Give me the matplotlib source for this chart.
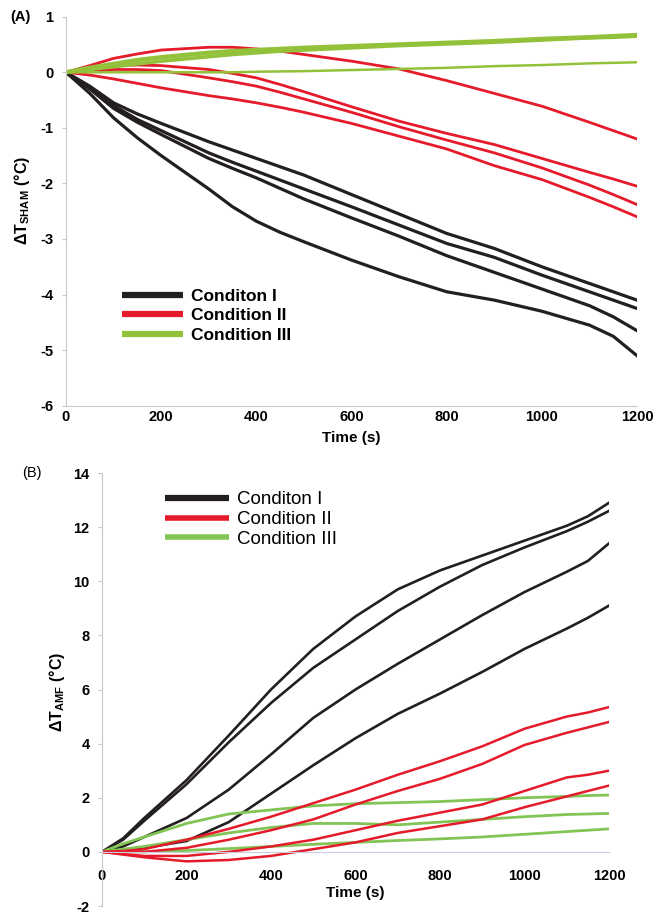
import matplotlib
matplotlib.use("Agg")
import matplotlib.pyplot as plt
from matplotlib.lines import Line2D

plt.rcParams['axes.unicode_minus'] = False
plt.rcParams['font.family'] = ['Liberation Sans', 'DejaVu Sans']
plt.rcParams['mathtext.fontset'] = 'custom'
plt.rcParams['mathtext.rm'] = 'Liberation Sans'
plt.rcParams['mathtext.bf'] = 'Liberation Sans:bold'

# ---------------- Panel A data (Delta T SHAM) ----------------
tA = [0, 50, 100, 150, 200, 300, 350, 400, 450, 500, 600, 700, 800, 900, 1000, 1100, 1150, 1200]
A_black1 = [0, -0.25, -0.55, -0.75, -0.92, -1.25, -1.4, -1.55, -1.7, -1.85, -2.2, -2.55, -2.9, -3.17, -3.5, -3.8, -3.95, -4.1]
A_black2 = [0, -0.28, -0.6, -0.85, -1.05, -1.45, -1.62, -1.78, -1.94, -2.1, -2.42, -2.75, -3.08, -3.33, -3.65, -3.95, -4.1, -4.25]
A_black3 = [0, -0.3, -0.65, -0.9, -1.12, -1.55, -1.73, -1.9, -2.09, -2.28, -2.62, -2.95, -3.3, -3.6, -3.9, -4.2, -4.4, -4.65]
A_black4 = [0, -0.38, -0.82, -1.18, -1.5, -2.1, -2.42, -2.68, -2.88, -3.05, -3.38, -3.68, -3.95, -4.1, -4.3, -4.55, -4.75, -5.1]
A_red1 = [0, 0.12, 0.25, 0.33, 0.4, 0.45, 0.45, 0.42, 0.38, 0.32, 0.2, 0.06, -0.15, -0.38, -0.61, -0.9, -1.05, -1.2]
A_red2 = [0, 0.08, 0.12, 0.13, 0.12, 0.05, -0.02, -0.1, -0.22, -0.35, -0.62, -0.88, -1.1, -1.3, -1.55, -1.8, -1.92, -2.05]
A_red3 = [0, 0.03, 0.05, 0.05, 0.03, -0.1, -0.17, -0.25, -0.36, -0.48, -0.72, -0.98, -1.22, -1.45, -1.72, -2.03, -2.2, -2.38]
A_red4 = [0, -0.05, -0.12, -0.2, -0.28, -0.42, -0.48, -0.55, -0.63, -0.72, -0.92, -1.15, -1.38, -1.68, -1.93, -2.25, -2.42, -2.6]
A_green1 = [0, 0.08, 0.15, 0.22, 0.27, 0.35, 0.38, 0.4, 0.42, 0.44, 0.47, 0.5, 0.53, 0.56, 0.6, 0.63, 0.65, 0.67]
A_green2 = [0, 0.05, 0.1, 0.15, 0.2, 0.28, 0.32, 0.35, 0.38, 0.4, 0.44, 0.48, 0.51, 0.54, 0.58, 0.62, 0.63, 0.65]
A_green3 = [0, 0.0, 0.0, 0.0, 0.0, 0.0, 0.0, 0.01, 0.015, 0.02, 0.04, 0.06, 0.08, 0.11, 0.13, 0.16, 0.17, 0.18]

# ---------------- Panel B data (Delta T AMF) ----------------
tB = [0, 50, 100, 200, 300, 400, 500, 600, 700, 800, 900, 1000, 1100, 1150, 1200]
B_black1 = [0, 0.5, 1.25, 2.65, 4.3, 6.0, 7.5, 8.7, 9.7, 10.4, 10.95, 11.5, 12.05, 12.4, 12.9]
B_black2 = [0, 0.45, 1.15, 2.5, 4.05, 5.5, 6.8, 7.85, 8.9, 9.8, 10.6, 11.25, 11.85, 12.2, 12.6]
B_black3 = [0, 0.2, 0.55, 1.25, 2.3, 3.6, 4.95, 6.0, 6.95, 7.85, 8.75, 9.6, 10.35, 10.75, 11.4]
B_black4 = [0, 0.05, 0.15, 0.4, 1.1, 2.15, 3.2, 4.2, 5.1, 5.85, 6.65, 7.5, 8.25, 8.65, 9.1]
B_red1 = [0, 0.03, 0.1, 0.45, 0.85, 1.3, 1.8, 2.3, 2.85, 3.35, 3.9, 4.55, 5.0, 5.15, 5.35]
B_red2 = [0, 0.0, 0.0, 0.15, 0.45, 0.8, 1.2, 1.75, 2.25, 2.7, 3.25, 3.95, 4.4, 4.6, 4.8]
B_red3 = [0, -0.08, -0.15, -0.15, 0.0, 0.2, 0.45, 0.8, 1.15, 1.45, 1.75, 2.25, 2.75, 2.85, 3.0]
B_red4 = [0, -0.1, -0.2, -0.35, -0.3, -0.15, 0.1, 0.35, 0.7, 0.95, 1.2, 1.65, 2.05, 2.25, 2.45]
B_green1 = [0, 0.3, 0.55, 1.05, 1.4, 1.55, 1.7, 1.78, 1.82, 1.86, 1.93, 2.0, 2.05, 2.08, 2.1]
B_green2 = [0, 0.1, 0.2, 0.45, 0.7, 0.9, 1.05, 1.05, 1.0, 1.1, 1.2, 1.3, 1.38, 1.4, 1.42]
B_green3 = [0, 0.0, 0.0, 0.05, 0.12, 0.2, 0.28, 0.35, 0.42, 0.48, 0.55, 0.65, 0.75, 0.8, 0.85]

legend_labels = ['Conditon I', 'Condition II', 'Condition III']
yticksA = [1, 0, -1, -2, -3, -4, -5, -6]
yticksB = [14, 12, 10, 8, 6, 4, 2, 0, -2]
xticks = [0, 200, 400, 600, 800, 1000, 1200]

BLACK = '#231f20'
RED = '#e51b2b'
GREEN_A = '#93c23a'
GREEN_B = '#82c455'
SPINE = '#c8c8c8'

fig = plt.figure(figsize=(6.57, 9.21), dpi=100)
W, H = 657.0, 921.0

def px_axes(x0, y0, x1, y1):
    return fig.add_axes([x0 / W, 1 - y1 / H, (x1 - x0) / W, (y1 - y0) / H])

# ---------- Panel A ----------
axA = px_axes(66, 16.7, 637, 405.7)
for y in (A_black1, A_black2, A_black3, A_black4):
    axA.plot(tA, y, color=BLACK, lw=2.3, solid_joinstyle='round')
for y in (A_red1, A_red2, A_red3, A_red4):
    axA.plot(tA, y, color=RED, lw=2.0, solid_joinstyle='round')
axA.plot(tA, A_green1, color=GREEN_A, lw=3.2)
axA.plot(tA, A_green2, color=GREEN_A, lw=2.6)
axA.plot(tA, A_green3, color=GREEN_A, lw=1.8)
axA.set_xlim(0, 1200)
axA.set_ylim(-6, 1)
axA.set_xticks(xticks)
axA.set_yticks(yticksA)
axA.set_yticklabels([str(v) for v in yticksA])
for s in ('top', 'right'):
    axA.spines[s].set_visible(False)
for s in ('left', 'bottom'):
    axA.spines[s].set_color(SPINE)
    axA.spines[s].set_linewidth(0.8)
axA.tick_params(axis='y', length=3, color=SPINE, pad=6, labelsize=10.5)
axA.tick_params(axis='x', length=0, pad=3, labelsize=10.5)
for lab in axA.get_xticklabels() + axA.get_yticklabels():
    lab.set_fontweight('bold')
axA.set_xlabel('Time (s)', fontsize=11, fontweight='bold', labelpad=5)
fig.text(22 / W, 1 - 200 / H, r'ΔT$_{\mathbf{SHAM}}$ (°C)', rotation=90,
         ha='center', va='center', fontsize=11.5, fontweight='bold')
fig.text(20 / W, 1 - 17 / H, '(A)', ha='center', va='center', fontsize=10.5, fontweight='bold')

handlesA = [Line2D([0], [0], color=BLACK, lw=4.5, solid_capstyle='butt'),
            Line2D([0], [0], color=RED, lw=4.5, solid_capstyle='butt'),
            Line2D([0], [0], color=GREEN_A, lw=4.5, solid_capstyle='butt')]
fig.legend(handlesA, legend_labels, loc='upper left',
           bbox_to_anchor=(122 / W, 1 - 288.5 / H), bbox_transform=fig.transFigure,
           frameon=False, borderpad=0, borderaxespad=0, handlelength=3.5,
           handletextpad=0.5, labelspacing=0.25,
           prop={'size': 12.5, 'weight': 'bold'})

# ---------- Panel B ----------
axB = px_axes(102, 473, 609, 906)
for y in (B_black1, B_black2, B_black3, B_black4):
    axB.plot(tB, y, color=BLACK, lw=1.9, solid_joinstyle='round')
for y in (B_green1, B_green2, B_green3):
    axB.plot(tB, y, color=GREEN_B, lw=2.0)
for y in (B_red1, B_red2, B_red3, B_red4):
    axB.plot(tB, y, color=RED, lw=1.8)
axB.set_xlim(0, 1200)
axB.set_ylim(-2, 14)
axB.set_xticks(xticks)
axB.set_yticks(yticksB)
axB.set_yticklabels([str(v) for v in yticksB])
for s in ('top', 'right'):
    axB.spines[s].set_visible(False)
axB.spines['bottom'].set_position(('data', 0))
axB.spines['bottom'].set_color('#c8ccdc')
axB.spines['bottom'].set_linewidth(0.8)
axB.spines['left'].set_color(SPINE)
axB.spines['left'].set_linewidth(0.8)
axB.tick_params(axis='y', length=3, color=SPINE, pad=6, labelsize=10.5)
axB.tick_params(axis='x', length=0, pad=12, labelsize=10.5)
for lab in axB.get_xticklabels() + axB.get_yticklabels():
    lab.set_fontweight('bold')
fig.text(355 / W, 1 - 893 / H, 'Time (s)', ha='center', va='center', fontsize=11, fontweight='bold')
fig.text(57 / W, 1 - 692 / H, r'ΔT$_{\mathbf{AMF}}$ (°C)', rotation=90,
         ha='center', va='center', fontsize=11.5, fontweight='bold')
fig.text(32 / W, 1 - 473 / H, '(B)', ha='center', va='center', fontsize=10.5)

handlesB = [Line2D([0], [0], color=BLACK, lw=4.5, solid_capstyle='butt'),
            Line2D([0], [0], color=RED, lw=4.0, solid_capstyle='butt'),
            Line2D([0], [0], color=GREEN_B, lw=4.0, solid_capstyle='butt')]
fig.legend(handlesB, legend_labels, loc='upper left',
           bbox_to_anchor=(165 / W, 1 - 491 / H), bbox_transform=fig.transFigure,
           frameon=False, borderpad=0, borderaxespad=0, handlelength=3.4,
           handletextpad=0.43, labelspacing=0.15,
           prop={'size': 13.5})

fig.savefig('out.png', dpi=100)
